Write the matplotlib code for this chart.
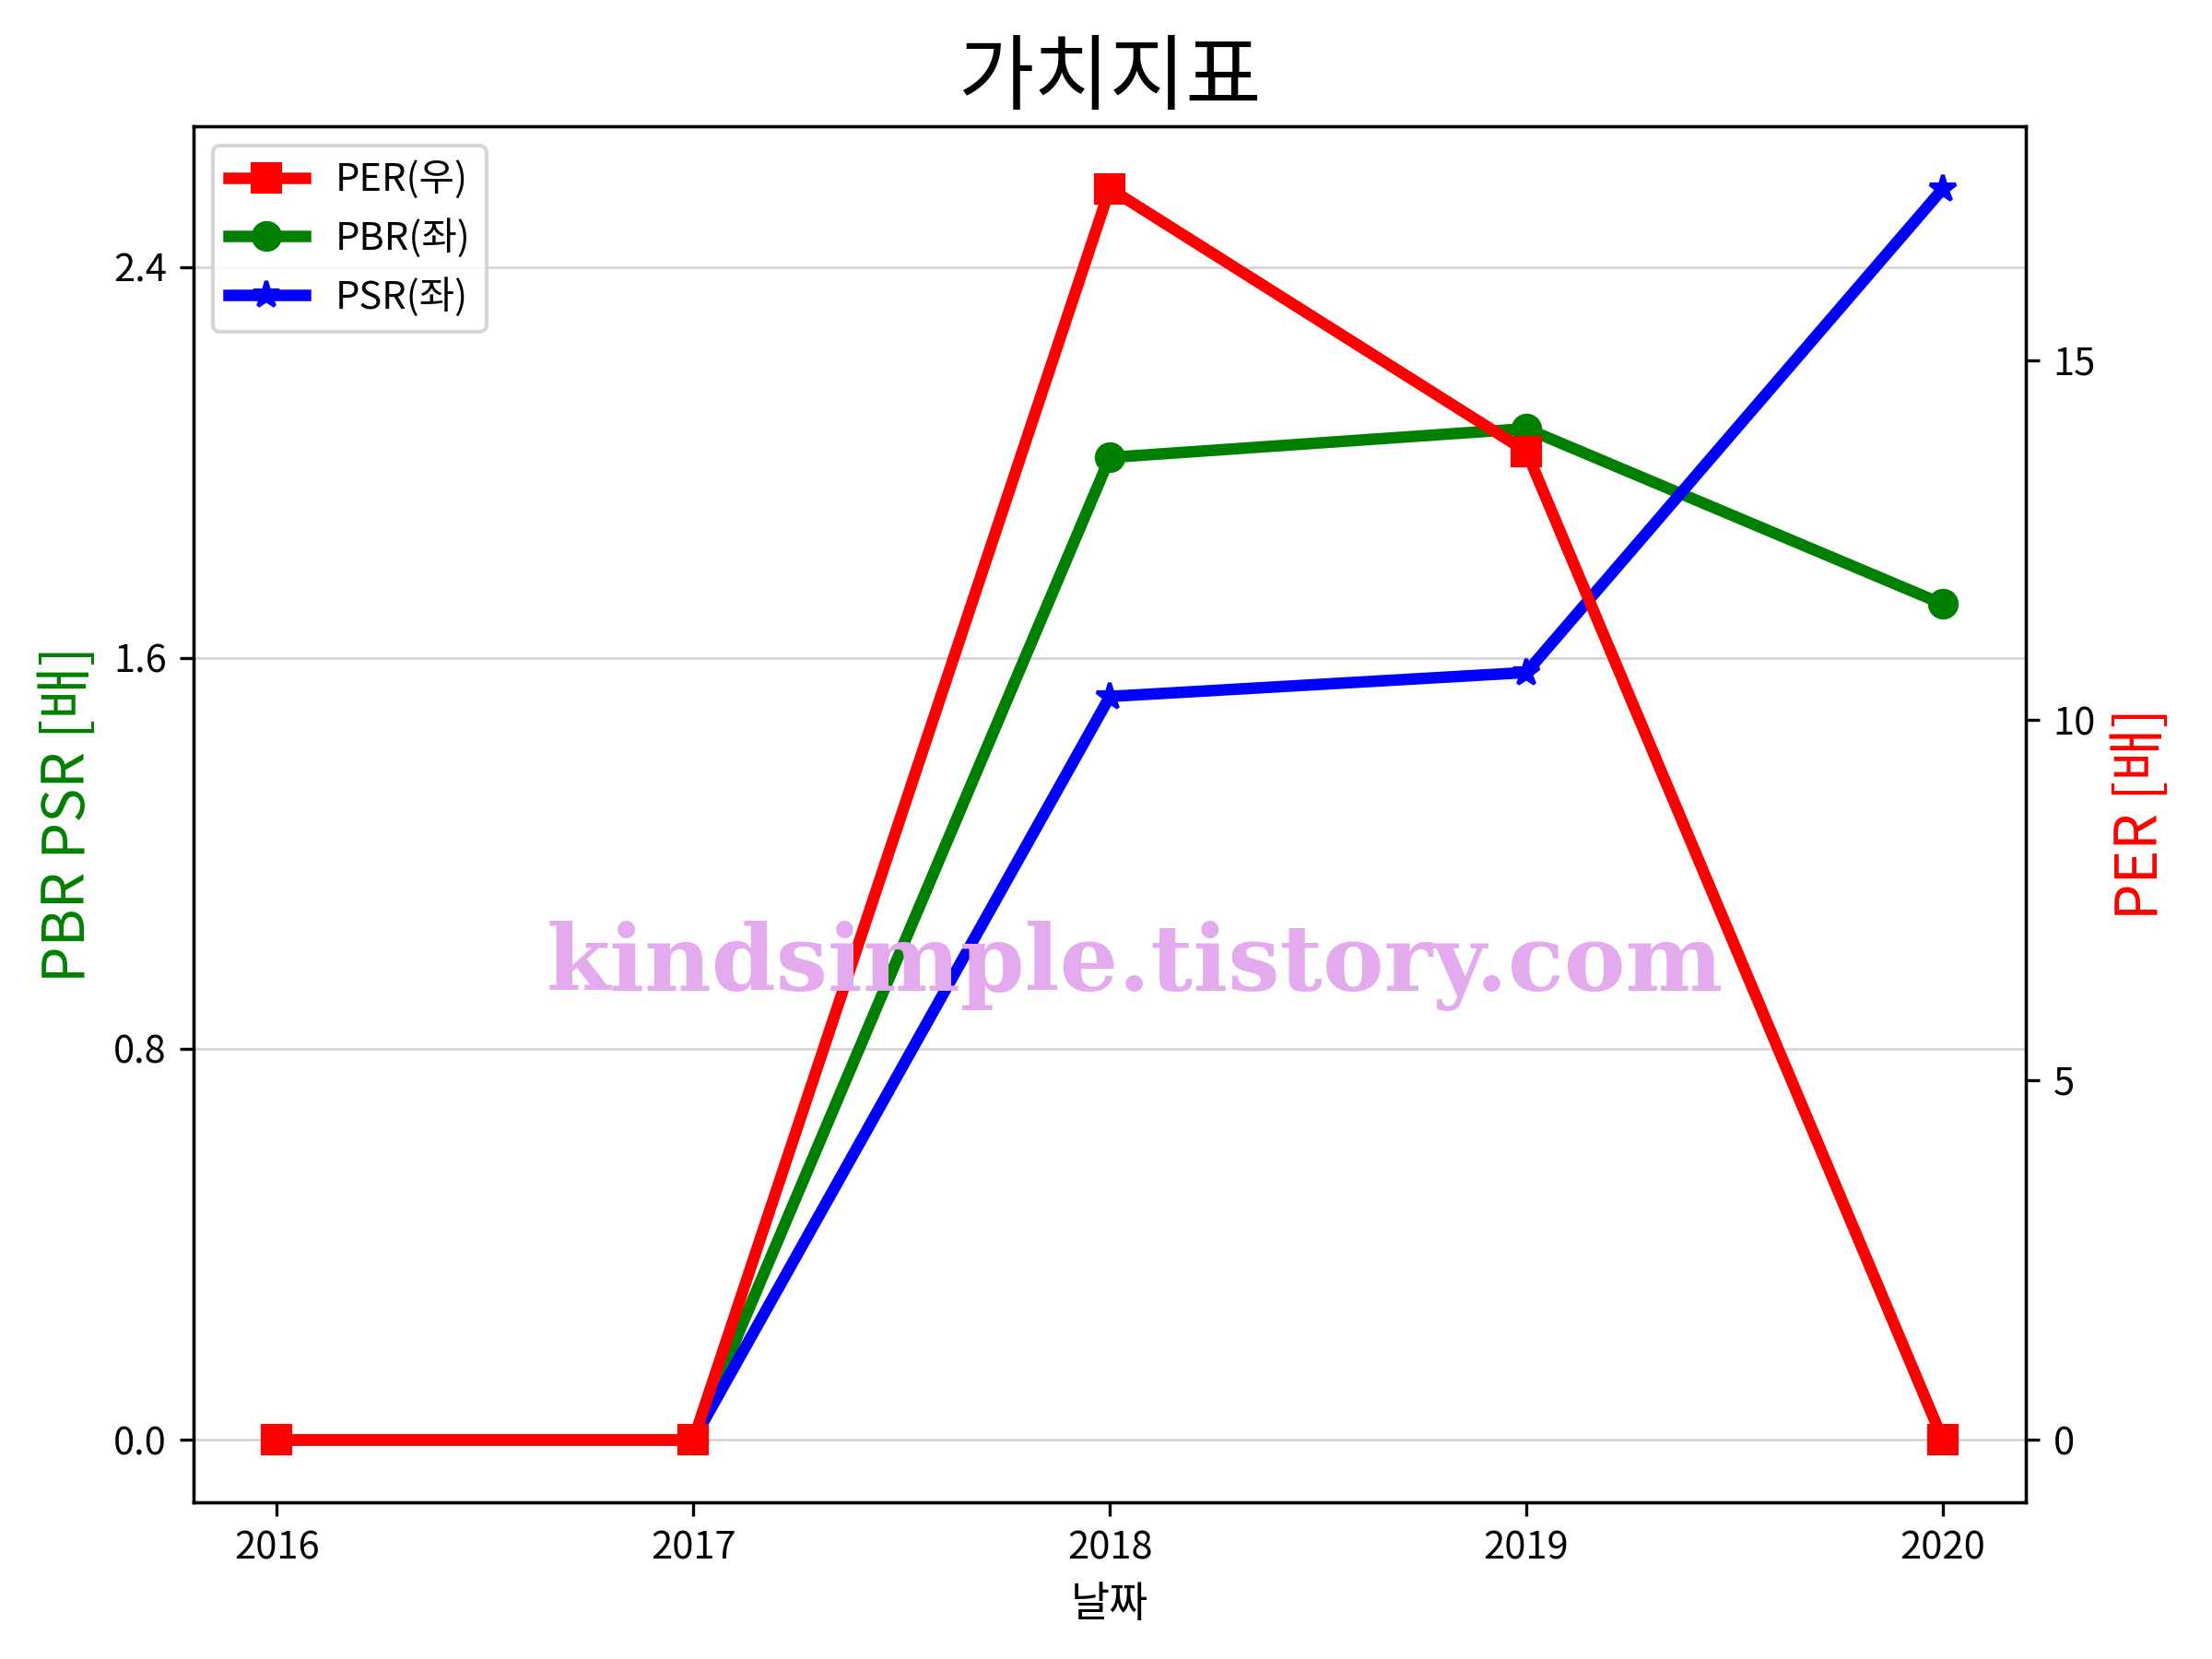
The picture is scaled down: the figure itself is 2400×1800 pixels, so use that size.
import matplotlib
matplotlib.use('Agg')
from matplotlib import pyplot as plt

plt.rcParams['font.family'] = ['Noto Sans CJK KR', 'DejaVu Sans']
plt.rcParams['axes.unicode_minus'] = False

years = [2016, 2017, 2018, 2019, 2020]
per = [0, 0, 17.38, 13.73, 0]
pbr = [0, 0, 2.01, 2.069, 1.71]
psr = [0, 0, 1.521, 1.57, 2.56]
left_ticks = [0.0, 0.8, 1.6, 2.4]

fig = plt.figure(figsize=(8, 6), dpi=300)
ax = fig.add_subplot(1, 1, 1)
ax2 = ax.twinx()

l_pbr, = ax.plot(years, pbr, color='green', marker='o', lw=3, ms=7, label='PBR(좌)')
l_psr, = ax.plot(years, psr, color='blue', marker='*', lw=3, ms=7, label='PSR(좌)')
l_per, = ax2.plot(years, per, color='red', marker='s', lw=3, ms=7, label='PER(우)')

ax.set_xticks(years)
ax.set_yticks(left_ticks)
ax.grid(axis='y', color='lightgray', lw=0.6)
ax2.set_yticks([0, 5, 10, 15])

ax.set_xlabel('날짜', fontsize=11)
ax.set_ylabel('PBR PSR [배]', color='green', fontsize=15)
ax2.set_ylabel('PER [배]', color='red', fontsize=15)
ax.set_title('가치지표', fontsize=21.5)

ax2.legend([l_per, l_pbr, l_psr], ['PER(우)', 'PBR(좌)', 'PSR(좌)'],
           loc='upper left', fontsize=10)

fig.text(0.513, 0.418, 'kindsimple.tistory.com', color='#E4AAEE',
         fontsize=24, fontweight='bold', family='DejaVu Serif',
         ha='center', va='center', zorder=10)

plt.subplots_adjust(left=0.0875, right=0.916, top=0.924, bottom=0.0944)
plt.savefig('out.png', dpi=300)
plt.close()
